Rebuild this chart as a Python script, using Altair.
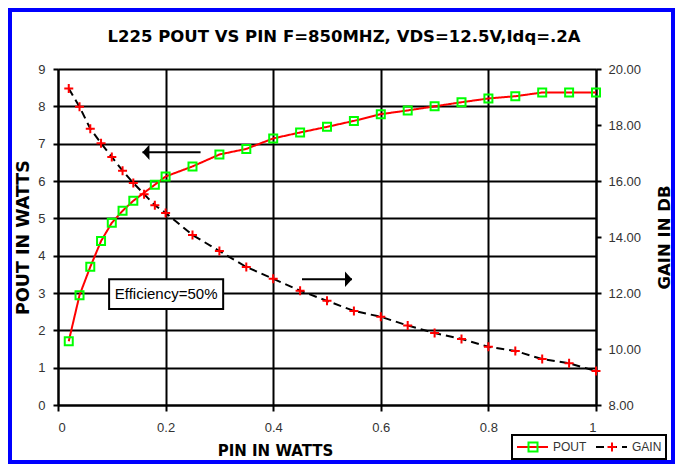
import altair as alt
import pandas as pd

# ---------------- data ----------------
pin_pout = [0.02, 0.04, 0.06, 0.08, 0.10, 0.12, 0.14, 0.18, 0.20,
            0.25, 0.30, 0.35, 0.40, 0.45, 0.50, 0.55, 0.60, 0.65,
            0.70, 0.75, 0.80, 0.85, 0.90, 0.95, 1.00]
pout_w = [1.71, 2.94, 3.70, 4.39, 4.88, 5.20, 5.47, 5.90, 6.12,
          6.39, 6.71, 6.86, 7.14, 7.30, 7.45, 7.61, 7.79, 7.89,
          8.00, 8.11, 8.21, 8.27, 8.37, 8.37, 8.37]

pin_gain = [0.02, 0.04, 0.06, 0.08, 0.10, 0.12, 0.14, 0.16, 0.18, 0.20,
            0.25, 0.30, 0.35, 0.40, 0.45, 0.50, 0.55, 0.60, 0.65,
            0.70, 0.75, 0.80, 0.85, 0.90, 0.95, 1.00]
gain_db = [19.30, 18.65, 17.87, 17.35, 16.86, 16.37, 15.93, 15.53, 15.13, 14.86,
           14.07, 13.50, 12.93, 12.51, 12.08, 11.72, 11.36, 11.15, 10.84,
           10.57, 10.36, 10.08, 9.93, 9.64, 9.49, 9.21]

x_ticks = [0, 0.2, 0.4, 0.6, 0.8, 1.0]
left_ticks = [0, 1, 2, 3, 4, 5, 6, 7, 8, 9]
right_ticks = [8, 10, 12, 14, 16, 18, 20]

title_text = "L225 POUT VS PIN F=850MHZ, VDS=12.5V,Idq=.2A"
note_text = ["Efficiency=50%"]
note_box_x = [0.095]
note_box_x2 = [0.307]
note_box_y = [2.57]
note_box_y2 = [3.37]
note_x = [0.201]
note_y = [2.97]

arrow_tail = [0.265, 0.4535]
arrow_tip = [0.157, 0.5465]
arrow_y = [6.77, 3.37]

series_names = ["POUT", "GAIN"]

# ---------------- tables ----------------
pout_df = pd.DataFrame({"pin": pin_pout, "pout": pout_w,
                        "series": "POUT", "marker": "POUT"})
gain_df = pd.DataFrame({"pin": pin_gain, "gain": gain_db,
                        "series": "GAIN", "marker": "GAIN"})
box_df = pd.DataFrame({"bx": note_box_x, "bx2": note_box_x2,
                       "by": note_box_y, "by2": note_box_y2})
note_df = pd.DataFrame({"nx": note_x, "ny": note_y, "txt": note_text})
arrow_left_df = pd.DataFrame({"ax": [arrow_tail[0]], "ax2": [arrow_tip[0]], "ay": [arrow_y[0]]})
arrow_right_df = pd.DataFrame({"ax": [arrow_tail[1]], "ax2": [arrow_tip[1]], "ay": [arrow_y[1]]})
frame_df = pd.DataFrame({"k": [0]})

SANS = "Liberation Sans, Arial, sans-serif"
BOLD = "DejaVu Sans"
PLUS = "M-1,0L1,0M0,-1L0,1"

xscale = alt.Scale(domain=[0, 1], nice=False, zero=False)
lscale = alt.Scale(domain=[0, 9], nice=False, zero=False)
rscale = alt.Scale(domain=[8, 20], nice=False, zero=False)

x_axis = alt.Axis(values=x_ticks, format="~g", grid=True, tickSize=6, labelPadding=10,
                  title="PIN IN WATTS", titleFontSize=15, titleX=217, titleY=50,
                  titleAlign="center", titleBaseline="alphabetic")
l_axis = alt.Axis(values=left_ticks, format="d", grid=True, tickSize=5, labelPadding=8,
                  title="POUT IN WATTS", titleFontSize=17.5, titleX=-34.5, titleY=168,
                  titleAngle=270, titleAlign="center", titleBaseline="middle")
r_axis = alt.Axis(orient="right", values=right_ticks, format=".2f", grid=False,
                  tickSize=5, labelPadding=7,
                  title="GAIN IN DB", titleFontSize=16.5, titleX=68, titleY=168,
                  titleAngle=270, titleAlign="center", titleBaseline="middle")

# legend A: line samples with labels (boxed); legend B: markers only, laid over A
leg_line = alt.Legend(title=None, orient="none", direction="horizontal",
                      legendX=454, legendY=366, values=series_names,
                      symbolType="stroke", symbolSize=961, symbolStrokeWidth=2,
                      clipHeight=16, padding=4, labelOffset=4, columnPadding=8,
                      labelFont=SANS, labelFontSize=12, labelColor="#333333",
                      strokeColor="black")
leg_mark = alt.Legend(title=None, orient="none", direction="horizontal",
                      legendX=465, legendY=366, values=series_names,
                      symbolSize=81, symbolStrokeWidth=2,
                      clipHeight=16, padding=4, labelOffset=4, columnPadding=63,
                      labelExpr="''", labelFontSize=12)

X = alt.X("pin:Q", scale=xscale, axis=x_axis)
YL = alt.Y("pout:Q", scale=lscale, axis=l_axis)
YR = alt.Y("gain:Q", scale=rscale, axis=r_axis)

line_color = alt.Color("series:N", scale=alt.Scale(range=["#000000", "#ff0000"]), legend=leg_line)
line_dash = alt.StrokeDash("series:N", scale=alt.Scale(range=[[8, 5], [1, 0]]), legend=leg_line)
mark_stroke = alt.Stroke("marker:N", scale=alt.Scale(range=["#ff0000", "#00ff00"]), legend=leg_mark)
mark_shape = alt.Shape("marker:N", scale=alt.Scale(range=[PLUS, "square"]), legend=leg_mark)

frame = alt.Chart(frame_df).mark_rect(fill="transparent", stroke="#0000ff", strokeWidth=4).encode(
    x=alt.value(-48), x2=alt.value(615), y=alt.value(-59), y2=alt.value(393))

pout_line = alt.Chart(pout_df).mark_line(strokeWidth=2).encode(
    x=X, y=YL, color=line_color, strokeDash=line_dash)
pout_pts = alt.Chart(pout_df).mark_point(filled=False, size=64, strokeWidth=2, opacity=1).encode(
    x=X, y=YL, stroke=mark_stroke, shape=mark_shape)

box = alt.Chart(box_df).mark_rect(fill="white", stroke="black", strokeWidth=2).encode(
    x=alt.X("bx:Q", scale=xscale, axis=x_axis), x2="bx2:Q",
    y=alt.Y("by:Q", scale=lscale, axis=l_axis), y2="by2:Q")
note = alt.Chart(note_df).mark_text(font=SANS, fontSize=15, color="black",
                                    align="center", baseline="middle").encode(
    x=alt.X("nx:Q", scale=xscale, axis=x_axis),
    y=alt.Y("ny:Q", scale=lscale, axis=l_axis), text="txt:N")

def arrow(df, head_path):
    shaft = alt.Chart(df).mark_rule(color="black", strokeWidth=2).encode(
        x=alt.X("ax:Q", scale=xscale, axis=x_axis), x2="ax2:Q",
        y=alt.Y("ay:Q", scale=lscale, axis=l_axis))
    head = alt.Chart(df).mark_point(filled=True, color="black", size=49, opacity=1,
                                    shape=head_path, strokeWidth=0).encode(
        x=alt.X("ax2:Q", scale=xscale, axis=x_axis),
        y=alt.Y("ay:Q", scale=lscale, axis=l_axis))
    return shaft + head

left_arrow = arrow(arrow_left_df, "M0,0L2,-2.2L2,2.2Z")
right_arrow = arrow(arrow_right_df, "M0,0L-2,-2.2L-2,2.2Z")

gain_line = alt.Chart(gain_df).mark_line(strokeWidth=2).encode(
    x=X, y=YR, color=line_color, strokeDash=line_dash)
gain_pts = alt.Chart(gain_df).mark_point(filled=False, size=81, strokeWidth=2, opacity=1).encode(
    x=X, y=YR, stroke=mark_stroke, shape=mark_shape)

left_group = alt.layer(frame, pout_line, box, note, left_arrow, right_arrow, pout_pts)
right_group = alt.layer(gain_line, gain_pts)

chart = alt.layer(left_group, right_group).resolve_scale(y="independent").properties(
    width=538, height=336,
    background="white",
    autosize=alt.AutoSizeParams(type="none"),
    padding={"left": 50, "top": 61, "right": 79, "bottom": 59},
    title=alt.TitleParams(text=title_text, font=BOLD, fontSize=16.5, fontWeight="bold",
                          color="black", anchor="middle", frame="group", dx=17,
                          baseline="alphabetic", offset=0, dy=50),
).configure_view(stroke="transparent").configure_axis(
    domainColor="black", domainWidth=2, tickColor="black", tickWidth=2,
    gridColor="black", gridWidth=2, gridOpacity=1,
    labelFont=SANS, labelFontSize=13, labelColor="#333333",
    titleFont=BOLD, titleFontWeight="bold", titleColor="black",
).configure_legend(strokeWidth=2)

chart.save("out.html", embed_options={"renderer": "svg", "actions": False})
